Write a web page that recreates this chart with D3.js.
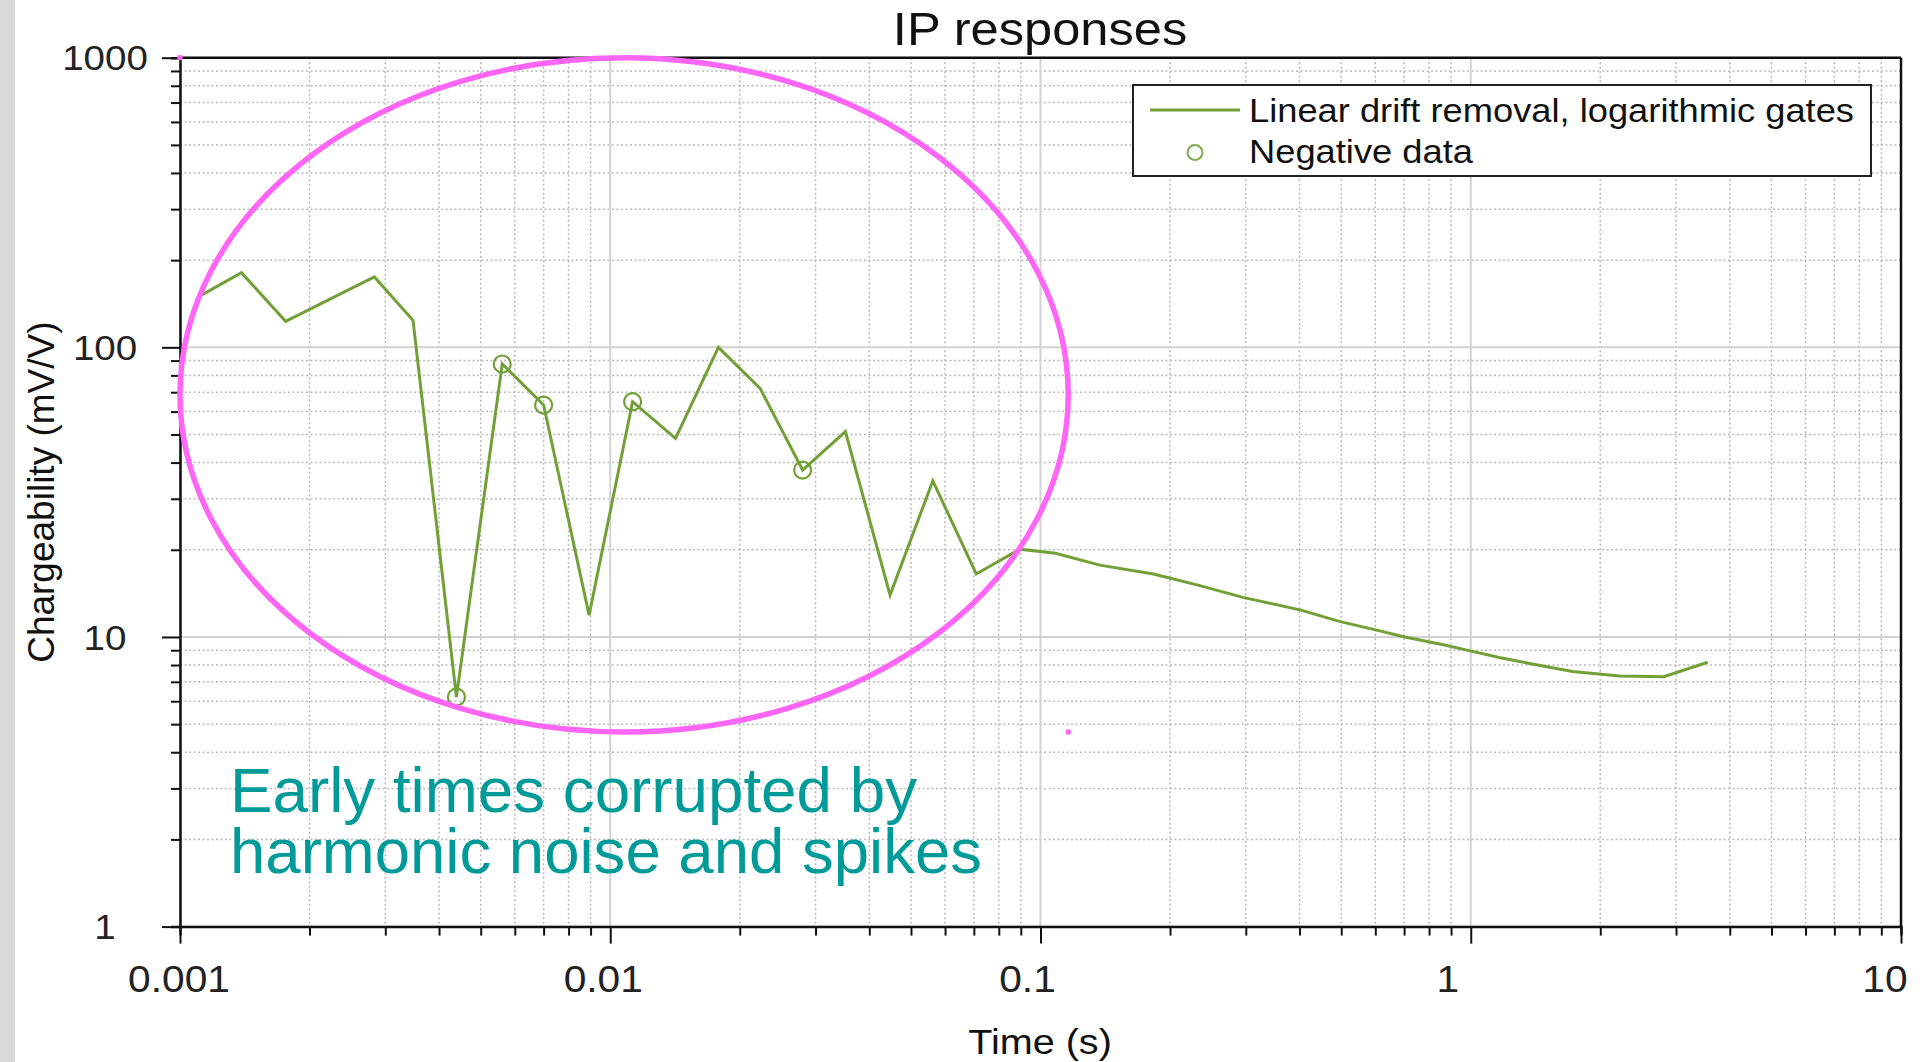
<!DOCTYPE html>
<html>
<head>
<meta charset="utf-8">
<script src="https://cdn.jsdelivr.net/npm/d3@7"></script>
<style>
  body { margin: 0; background: #fff; }
  text { font-family: "Liberation Sans", Arial, sans-serif; }
</style>
</head>
<body>
<script>
// IP gate times (s) and chargeability (mV/V)
const times = [0.0011, 0.00139, 0.00176, 0.00283, 0.00348, 0.00439, 0.00561, 0.0070, 0.00893,
  0.01127, 0.01418, 0.01784, 0.0223, 0.0280, 0.0352, 0.0447, 0.0562, 0.0709, 0.0895,
  0.1083, 0.1374, 0.183, 0.2323, 0.2954, 0.401, 0.4975, 0.5976, 0.7024, 0.8637,
  1.015, 1.165, 1.369, 1.723, 2.218, 2.81, 3.554];
const values = [149, 181, 123, 175, 124, 6.2, 87.6, 63.2, 11.9,
  64.9, 48.5, 100, 72.2, 37.7, 51.2, 13.96, 34.6, 16.5, 20.1,
  19.45, 17.7, 16.5, 15.1, 13.7, 12.4, 11.3, 10.6, 10.0, 9.4,
  8.9, 8.5, 8.1, 7.6, 7.33, 7.29, 8.18];
// 1 = gate with negative data (drawn with a circle)
const negative = [0, 0, 0, 0, 0, 1, 1, 1, 0,
  1, 0, 0, 0, 1, 0, 0, 0, 0, 0,
  0, 0, 0, 0, 0, 0, 0, 0, 0, 0,
  0, 0, 0, 0, 0, 0, 0];

const xTickLabels = ["0.001", "0.01", "0.1", "1", "10"];
const yTickLabels = ["1", "10", "100", "1000"];
const legendLabels = ["Linear drift removal, logarithmic gates", "Negative data"];
const noteLines = ["Early times corrupted by", "harmonic noise and spikes"];
// zona încercuită pe slide (interval de timp, interval de valori)
const zoneTimes = [0.001, 0.116];
const zoneValues = [4.7, 1000];

const W = 1924, H = 1062;
const plotLeft = 180, plotRight = 1901, plotTop = 57.7, plotBottom = 926.6;
const green = "#72a037";
const stretch = 1.1; // imaginea graficului e puțin lățită
const xLabelShift = [-1, -7, -13, -23, -16]; // etichetele X sunt ușor deplasate spre stânga

const svg = d3.select("body").append("svg")
  .attr("width", W)
  .attr("height", H);

// bandă gri din stânga
svg.append("rect").attr("x", 0).attr("y", 0).attr("width", 15).attr("height", H).attr("fill", "#d9d9d9");

const x = d3.scaleLog().domain([0.001, 10]).range([plotLeft, plotRight]);
const y = d3.scaleLog().domain([1, 1000]).range([plotBottom, plotTop]);

const isMajor = v => Math.abs(Math.log10(v) - Math.round(Math.log10(v))) < 1e-9;
const xt = x.ticks();
const yt = y.ticks();

// grila
const grid = svg.append("g");
grid.selectAll(".vminor").data(xt.filter(v => !isMajor(v))).enter().append("line")
  .attr("x1", d => x(d)).attr("x2", d => x(d)).attr("y1", plotTop).attr("y2", plotBottom)
  .attr("stroke", "#b9b9b9").attr("stroke-width", 1.5).attr("stroke-dasharray", "2,2.5");
grid.selectAll(".hminor").data(yt.filter(v => !isMajor(v))).enter().append("line")
  .attr("y1", d => y(d)).attr("y2", d => y(d)).attr("x1", plotLeft).attr("x2", plotRight)
  .attr("stroke", "#b9b9b9").attr("stroke-width", 1.5).attr("stroke-dasharray", "2,2.5");
grid.selectAll(".vmajor").data(xt.filter(isMajor)).enter().append("line")
  .attr("x1", d => x(d)).attr("x2", d => x(d)).attr("y1", plotTop).attr("y2", plotBottom)
  .attr("stroke", "#d2d2d2").attr("stroke-width", 2);
grid.selectAll(".hmajor").data(yt.filter(isMajor)).enter().append("line")
  .attr("y1", d => y(d)).attr("y2", d => y(d)).attr("x1", plotLeft).attr("x2", plotRight)
  .attr("stroke", "#d2d2d2").attr("stroke-width", 2);

// cutia (sus + dreapta)
svg.append("line").attr("x1", plotLeft).attr("x2", plotRight).attr("y1", plotTop).attr("y2", plotTop)
  .attr("stroke", "#111").attr("stroke-width", 2.5);
svg.append("line").attr("x1", plotRight).attr("x2", plotRight).attr("y1", plotTop).attr("y2", plotBottom)
  .attr("stroke", "#111").attr("stroke-width", 2.5);

// axe
const xAxis = svg.append("g")
  .attr("transform", `translate(0,${plotBottom})`)
  .call(d3.axisBottom(x).tickValues(xt).tickSize(9).tickFormat(""));
xAxis.selectAll(".tick line").filter(d => isMajor(d)).attr("y2", 17);
const yAxis = svg.append("g")
  .attr("transform", `translate(${plotLeft},0)`)
  .call(d3.axisLeft(y).tickValues(yt).tickSize(9).tickFormat(""));
yAxis.selectAll(".tick line").filter(d => isMajor(d)).attr("x2", -18);
[xAxis, yAxis].forEach(a => {
  a.select(".domain").attr("stroke", "#111").attr("stroke-width", 2.5);
  a.selectAll(".tick line").attr("stroke", "#111").attr("stroke-width", 2);
});

function stretchedText(g, tx, ty, str, size, anchor, fill, sx) {
  return g.append("text")
    .attr("transform", `translate(${tx},${ty}) scale(${sx},1)`)
    .attr("text-anchor", anchor)
    .attr("font-size", size)
    .attr("fill", fill)
    .text(str);
}

// etichete axa X
xt.filter(isMajor).forEach((v, i) => {
  stretchedText(svg, x(v) + xLabelShift[i], 992, xTickLabels[i], 37, "middle", "#222", stretch);
});
// etichete axa Y
yt.filter(isMajor).forEach((v, i) => {
  stretchedText(svg, 105, y(v) + 12.6, yTickLabels[i], 35, "middle", "#222", stretch);
});

// titluri
stretchedText(svg, 1040, 45, "IP responses", 46, "middle", "#111", stretch);
stretchedText(svg, 1040, 1054, "Time (s)", 36, "middle", "#111", stretch);
svg.append("text")
  .attr("transform", `translate(54,${(plotTop + plotBottom) / 2}) rotate(-90)`)
  .attr("text-anchor", "middle")
  .attr("font-size", 37)
  .attr("fill", "#111")
  .text("Chargeability (mV/V)");

// date
const data = times.map((t, i) => ({ t: t, v: values[i], neg: negative[i] }));
const line = d3.line().x(d => x(d.t)).y(d => y(d.v));
svg.append("path").datum(data)
  .attr("d", line)
  .attr("fill", "none")
  .attr("stroke", green)
  .attr("stroke-width", 3)
  .attr("stroke-linejoin", "miter");
svg.selectAll(".neg").data(data.filter(d => d.neg)).enter().append("circle")
  .attr("cx", d => x(d.t)).attr("cy", d => y(d.v)).attr("r", 8.5)
  .attr("fill", "none").attr("stroke", green).attr("stroke-width", 2.2);

// legenda
const lg = svg.append("g");
lg.append("rect").attr("x", 1133).attr("y", 85).attr("width", 738).attr("height", 91)
  .attr("fill", "#fff").attr("stroke", "#222").attr("stroke-width", 2);
lg.append("line").attr("x1", 1150).attr("x2", 1240).attr("y1", 110).attr("y2", 110)
  .attr("stroke", green).attr("stroke-width", 3);
lg.append("circle").attr("cx", 1195).attr("cy", 152.5).attr("r", 7.5)
  .attr("fill", "none").attr("stroke", "#80a84c").attr("stroke-width", 2);
stretchedText(lg, 1249, 122, legendLabels[0], 33, "start", "#111", stretch);
stretchedText(lg, 1249, 163, legendLabels[1], 33, "start", "#111", stretch);

// nota
const noteWidths = [687, 752];
noteLines.forEach((s, i) => {
  svg.append("text")
    .attr("x", 230).attr("y", 812 + i * 61)
    .attr("font-size", 63)
    .attr("fill", "#009b98")
    .attr("textLength", noteWidths[i])
    .attr("lengthAdjust", "spacingAndGlyphs")
    .text(s);
});

// elipsa magenta
const ex0 = x(zoneTimes[0]), ex1 = x(zoneTimes[1]);
const ey0 = y(zoneValues[1]), ey1 = y(zoneValues[0]);
svg.append("ellipse")
  .attr("cx", (ex0 + ex1) / 2).attr("cy", (ey0 + ey1) / 2)
  .attr("rx", (ex1 - ex0) / 2).attr("ry", (ey1 - ey0) / 2)
  .attr("fill", "none").attr("stroke", "#ff66f6").attr("stroke-width", 5.5);
[[ex0, ey0], [ex1, ey1]].forEach(p => {
  svg.append("rect").attr("x", p[0] - 2.5).attr("y", p[1] - 2.5).attr("width", 5).attr("height", 5)
    .attr("fill", "#ff66f6");
});
</script>
</body>
</html>
